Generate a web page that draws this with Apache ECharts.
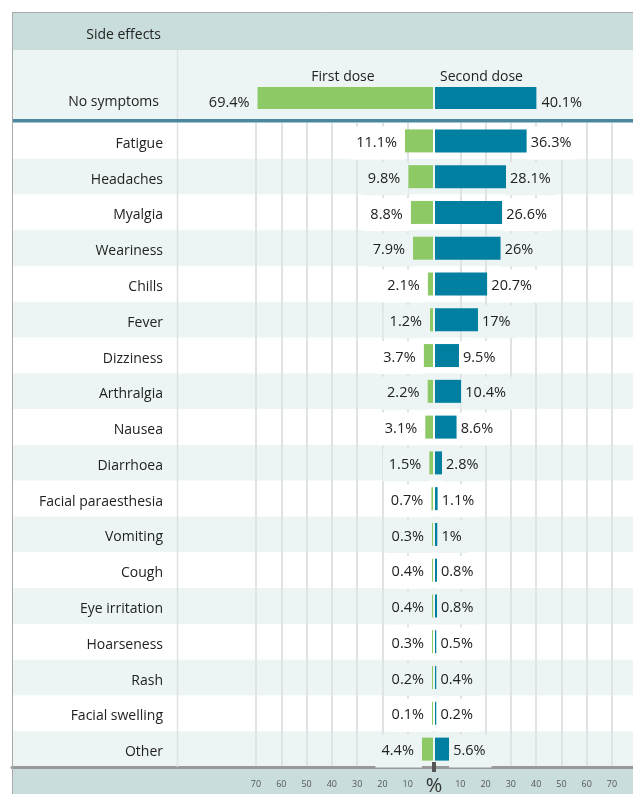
<!DOCTYPE html>
<html>
<head>
<meta charset="utf-8">
<script src="https://cdn.jsdelivr.net/npm/echarts@6/dist/echarts.min.js"></script>
<style>
  html, body { margin: 0; padding: 0; background: #fff; }
  #chart { width: 633px; height: 794px; }
</style>
</head>
<body>
<div id="chart"></div>
<script>
// data
const symptoms = ["Fatigue", "Headaches", "Myalgia", "Weariness", "Chills", "Fever", "Dizziness", "Arthralgia", "Nausea", "Diarrhoea", "Facial paraesthesia", "Vomiting", "Cough", "Eye irritation", "Hoarseness", "Rash", "Facial swelling", "Other"];
const firstDose = [11.1, 9.8, 8.8, 7.9, 2.1, 1.2, 3.7, 2.2, 3.1, 1.5, 0.7, 0.3, 0.4, 0.4, 0.3, 0.2, 0.1, 4.4];
const secondDose = [36.3, 28.1, 26.6, 26, 20.7, 17, 9.5, 10.4, 8.6, 2.8, 1.1, 1, 0.8, 0.8, 0.5, 0.4, 0.2, 5.6];
const noSymptoms = ["No symptoms"];
const noSymptomsFirst = [69.4];
const noSymptomsSecond = [40.1];
const doseNames = ["First dose", "Second dose"];
const headerText = "Side effects";
const axisUnit = "%";
const axisMax = 70;
const axisStep = 10;

const FONT = "Open Sans";
const GREEN = "#8dc965";
const BLUE = "#007fa0";
const MINT = "#edf5f4";
const HEAD = "#c9dedc";
const GRIDLINE = "#dfe3e3";

const chart = echarts.init(document.getElementById("chart"));

// row colour, used also behind the value labels so they hide the grid lines
const rowColor = (i) => (i % 2 ? MINT : "#ffffff");

function valueLabel(pos, padding, lh, dy) {
  return {
    show: true,
    position: pos,
    distance: 0,
    offset: [0, dy],
    formatter: (p) => p.value + "%",
    fontFamily: FONT,
    fontSize: 14.5,
    color: "#222",
    lineHeight: lh,
    padding: padding,
  };
}

function rowItems(values) {
  return values.map((v, i) => ({ value: v, label: { backgroundColor: rowColor(i) } }));
}

function barAxis(inverse) {
  return {
    type: "value",
    inverse: inverse,
    min: 0,
    max: axisMax,
    interval: axisStep,
    axisLine: { show: false },
    axisTick: { show: false },
    axisLabel: {
      margin: 13,
      fontFamily: FONT,
      fontSize: 9,
      color: "#555",
      formatter: (v) => (v === 0 ? "" : v),
    },
    splitLine: {
      show: true,
      lineStyle: { width: 2, color: ["rgba(0,0,0,0)", GRIDLINE, GRIDLINE, GRIDLINE, GRIDLINE, GRIDLINE, GRIDLINE, GRIDLINE] },
    },
  };
}

const option = {
  animation: false,
  grid: [
    { left: 12, right: 0, top: 123, bottom: 27 },
    { left: 256, right: 200, top: 123, bottom: 27 },
    { left: 435, right: 21, top: 123, bottom: 27 },
    { left: 256, right: 200, top: 87, height: 22 },
    { left: 435, right: 21, top: 87, height: 22 },
  ],
  xAxis: [
    {
      gridIndex: 0, type: "value", min: 0, max: 1,
      axisLine: { show: true, lineStyle: { color: "#999", width: 3 } },
      axisTick: { show: false }, axisLabel: { show: false }, splitLine: { show: false },
    },
    Object.assign(barAxis(true), { gridIndex: 1 }),
    Object.assign(barAxis(false), { gridIndex: 2 }),
    { gridIndex: 3, type: "value", inverse: true, min: 0, max: axisMax, show: false },
    { gridIndex: 4, type: "value", min: 0, max: axisMax, show: false },
  ],
  yAxis: [
    {
      gridIndex: 0, type: "category", data: symptoms, inverse: true,
      axisLine: { show: false }, axisTick: { show: false },
      axisLabel: { inside: true, align: "right", verticalAlign: "top", lineHeight: 6, margin: 151, fontFamily: FONT, fontSize: 14, color: "#222" },
      splitLine: { show: false },
      splitArea: { show: true, areaStyle: { color: ["#ffffff", MINT] } },
    },
    { gridIndex: 1, type: "category", data: symptoms, inverse: true, show: false },
    { gridIndex: 2, type: "category", data: symptoms, inverse: true, show: false },
    {
      gridIndex: 3, type: "category", data: noSymptoms,
      axisLine: { show: false }, axisTick: { show: false },
      axisLabel: { margin: 97, verticalAlign: "top", lineHeight: 9, fontFamily: FONT, fontSize: 14, color: "#222" },
    },
    { gridIndex: 4, type: "category", data: noSymptoms, show: false },
  ],
  series: [
    {
      type: "bar", name: doseNames[0], xAxisIndex: 1, yAxisIndex: 1, silent: true,
      data: rowItems(firstDose), barWidth: 23, barMinHeight: 1,
      itemStyle: { color: GREEN }, label: valueLabel("left", [0, 8, 0, 6], 33, 2),
    },
    {
      type: "bar", name: doseNames[1], xAxisIndex: 2, yAxisIndex: 2, silent: true,
      data: rowItems(secondDose), barWidth: 23, barMinHeight: 1.5,
      itemStyle: { color: BLUE }, label: valueLabel("right", [0, 6, 0, 4], 33, 2),
    },
    {
      type: "bar", name: doseNames[0], xAxisIndex: 3, yAxisIndex: 3, silent: true,
      data: noSymptomsFirst, barWidth: 22,
      itemStyle: { color: GREEN }, label: valueLabel("left", [0, 8, 0, 6], 20, 5),
    },
    {
      type: "bar", name: doseNames[1], xAxisIndex: 4, yAxisIndex: 4, silent: true,
      data: noSymptomsSecond, barWidth: 22,
      itemStyle: { color: BLUE }, label: valueLabel("right", [0, 6, 0, 5], 20, 5),
    },
  ],
  graphic: [
    { type: "rect", z: -1, shape: { x: 12, y: 12, width: 621, height: 38 }, style: { fill: HEAD } },
    { type: "rect", z: -1, shape: { x: 12, y: 50, width: 621, height: 69 }, style: { fill: MINT } },
    { type: "rect", z: -1, shape: { x: 12, y: 768, width: 621, height: 26 }, style: { fill: HEAD } },
    { type: "rect", z: 5, shape: { x: 12, y: 119, width: 621, height: 3.5 }, style: { fill: "#4a88a0" } },
    { type: "line", z: 5, shape: { x1: 12, y1: 12.5, x2: 633, y2: 12.5 }, style: { stroke: "#aaa", lineWidth: 1 } },
    { type: "line", z: 5, shape: { x1: 12.5, y1: 12, x2: 12.5, y2: 794 }, style: { stroke: "#aaa", lineWidth: 1 } },
    { type: "line", z: 1, shape: { x1: 177.5, y1: 50, x2: 177.5, y2: 767 }, style: { stroke: "#dde1e1", lineWidth: 1.5 } },
    { type: "rect", z: 6, shape: { x: 432, y: 762, width: 4, height: 10 }, style: { fill: "#555" } },
    {
      type: "text", z: 6, x: 434, y: 786,
      style: { text: axisUnit, fontFamily: FONT, fontSize: 20, fill: "#333", align: "center", verticalAlign: "middle" },
    },
    {
      type: "text", z: 6, x: 161, y: 35,
      style: { text: headerText, fontFamily: FONT, fontSize: 14, fill: "#222", align: "right", verticalAlign: "middle" },
    },
    {
      type: "text", z: 6, x: 343, y: 77,
      style: { text: doseNames[0], fontFamily: FONT, fontSize: 14, fill: "#222", align: "center", verticalAlign: "middle" },
    },
    {
      type: "text", z: 6, x: 440, y: 77,
      style: { text: doseNames[1], fontFamily: FONT, fontSize: 14, fill: "#222", align: "left", verticalAlign: "middle" },
    },
  ],
};

chart.setOption(option);
window.addEventListener("resize", () => {
  chart.resize();
});
</script>
</body>
</html>
